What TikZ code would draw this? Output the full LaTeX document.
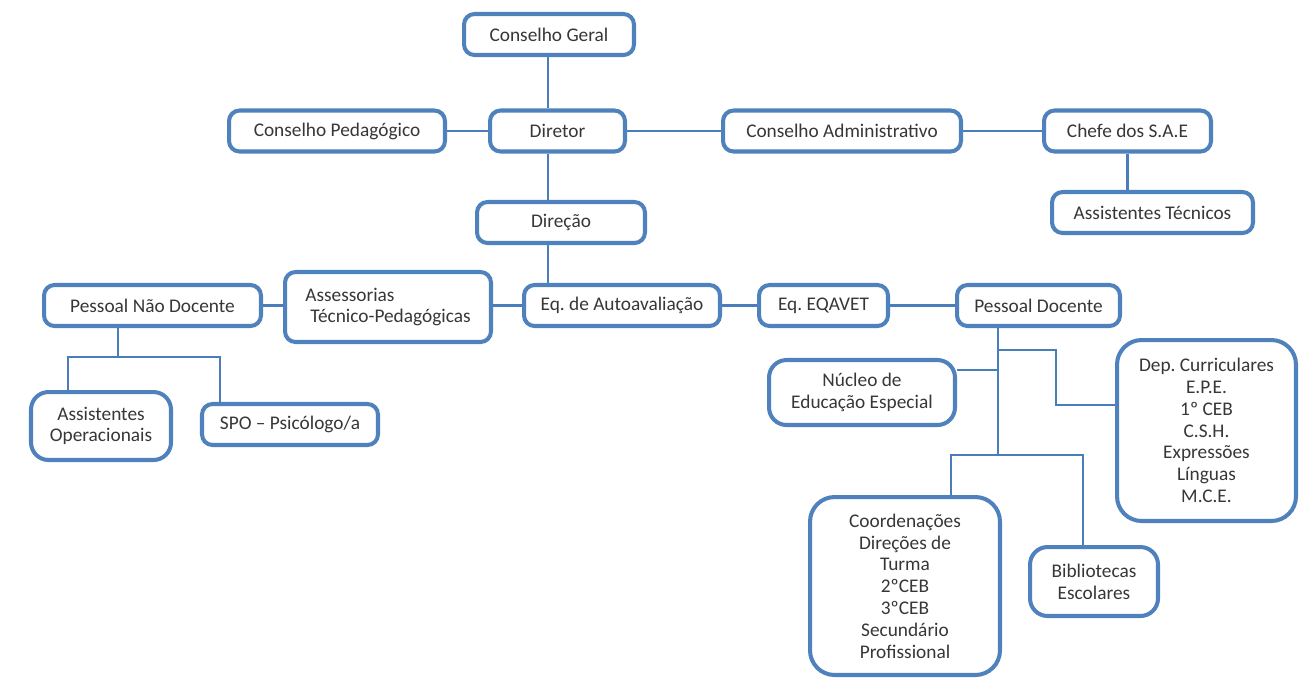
\documentclass[tikz,border=0pt]{standalone}
\usepackage{fontspec}
\setmainfont{Carlito}
\usepackage{tikz}
\definecolor{boxblue}{RGB}{79,129,189}
\definecolor{lineblue}{RGB}{74,126,187}
\definecolor{txtgray}{RGB}{55,55,55}
\frenchspacing

\begin{document}
\begin{tikzpicture}[x=0.02cm,y=-0.02cm,
  box/.style={draw=boxblue,line width=2.3pt,fill=white,rounded corners=6pt,align=center,inner sep=2pt,text=txtgray,font=\fontsize{11}{12.4}\selectfont},
  bigbox/.style={box,rounded corners=14pt},
  link/.style={draw=lineblue,line width=1.3pt}]
 \useasboundingbox (0,0) rectangle (1301,681);
 \node[box,minimum width=3.4cm,minimum height=0.82cm] (geral) at (549,34.5) {Conselho Geral};
 \node[box,minimum width=2.7cm,minimum height=0.82cm] (diretor) at (557.5,131) {Diretor};
 \node[box,minimum width=4.32cm,minimum height=0.82cm] (pedagogico) at (337,131) {Conselho Pedagógico};
 \node[box,minimum width=4.76cm,minimum height=0.82cm] (administrativo) at (842,131) {Conselho Administrativo};
 \node[box,minimum width=3.34cm,minimum height=0.82cm] (chefe) at (1127.5,131) {Chefe dos S.A.E};
 \node[box,minimum width=4.02cm,minimum height=0.82cm] (tecnicos) at (1152.5,212.5) {Assistentes Técnicos};
 \node[box,minimum width=3.36cm,minimum height=0.82cm] (direcao) at (561,222.5) {Direção};
 \node[box,minimum width=4.34cm,minimum height=0.82cm] (naodocente) at (152.5,305.5) {Pessoal Não Docente};
 \node[box,align=left,minimum width=4.12cm,minimum height=1.4cm] (assessorias) at (388,307) {Assessorias\\\hspace{0.1cm}Técnico-Pedagógicas};
 \node[box,minimum width=3.92cm,minimum height=0.82cm] (auto) at (622,305.5) {Eq. de Autoavaliação};
 \node[box,minimum width=2.58cm,minimum height=0.82cm] (eqavet) at (823.5,305.5) {Eq. EQAVET};
 \node[box,minimum width=3.26cm,minimum height=0.82cm] (docente) at (1038.5,305.5) {Pessoal Docente};
 \node[box,rounded corners=10pt,minimum width=2.8cm,minimum height=1.36cm] (operacionais) at (101,426) {Assistentes\\Operacionais};
 \node[box,minimum width=3.52cm,minimum height=0.82cm] (spo) at (290,424.5) {SPO – Psicólogo/a};
 \node[box,rounded corners=10pt,minimum width=3.72cm,minimum height=1.3cm] (nucleo) at (862,392.5) {Núcleo de\\Educação Especial};
 \node[bigbox,minimum width=3.58cm,minimum height=3.62cm] (dep) at (1206.5,430.5) {Dep. Curriculares\\E.P.E.\\1º CEB\\C.S.H.\\Expressões\\Línguas\\M.C.E.};
 \node[bigbox,minimum width=3.8cm,minimum height=3.56cm] (coord) at (905,586) {Coordenações\\Direções de\\Turma\\2ºCEB\\3ºCEB\\Secundário\\Profissional};
 \node[box,rounded corners=10pt,minimum width=2.56cm,minimum height=1.38cm] (bibliotecas) at (1094,581.5) {Bibliotecas\\Escolares};
 \coordinate (spine) at (548,0);
 \coordinate (ndM) at (118,357);
 \coordinate (ndL) at (68,357);
 \coordinate (ndR) at (220,357);
 \coordinate (pdN) at (998,370);
 \coordinate (pdD) at (998,350);
 \coordinate (depA) at (1056,350);
 \coordinate (depB) at (1056,405);
 \coordinate (pdB) at (998,455);
 \coordinate (coL) at (951,455);
 \coordinate (biR) at (1083,455);
 \draw[link] (geral.south -| spine) -- (diretor.north -| spine);
 \draw[link] (diretor.south -| spine) -- (direcao.north -| spine);
 \draw[link] (direcao.south -| spine) -- (auto.north -| spine);
 \draw[link] (pedagogico) -- (diretor);
 \draw[link] (diretor) -- (administrativo);
 \draw[link] (administrativo) -- (chefe);
 \draw[link] (chefe.south) -- (chefe.south |- tecnicos.north);
 \draw[link] (naodocente.east) -- (naodocente.east -| assessorias.west);
 \draw[link] (auto.west -| assessorias.east) -- (auto.west);
 \draw[link] (auto) -- (eqavet);
 \draw[link] (eqavet) -- (docente);
 \draw[link] (naodocente.south -| ndM) -- (ndM);
 \draw[link] (operacionais.north -| ndL) -- (ndL) -- (ndR) -- (spo.north -| ndR);
 \draw[link] (docente.south -| pdB) -- (pdB);
 \draw[link] (nucleo.east |- pdN) -- (pdN);
 \draw[link] (pdD) -- (depA) -- (depB) -- (dep.west |- depB);
 \draw[link] (coord.north -| coL) -- (coL) -- (biR) -- (bibliotecas.north -| biR);
\end{tikzpicture}
\end{document}
